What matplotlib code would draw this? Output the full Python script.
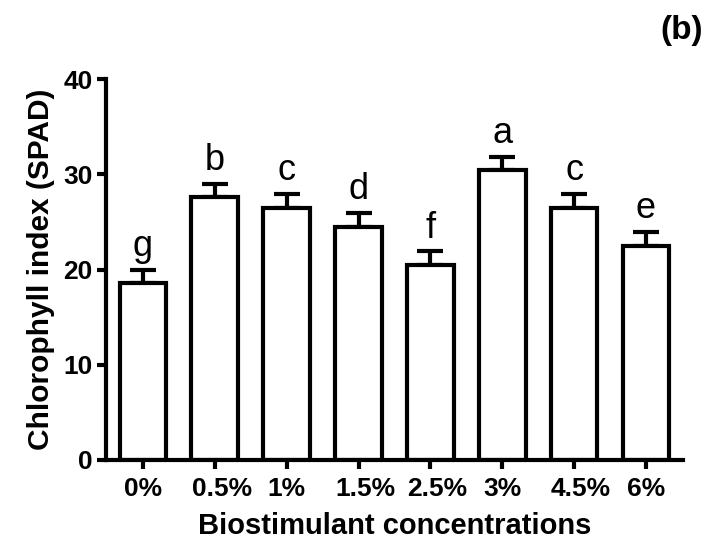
import matplotlib
matplotlib.use('Agg')
import matplotlib.pyplot as plt
import matplotlib.transforms as mtransforms
import numpy as np

plt.rcParams['font.family'] = ['Liberation Sans', 'DejaVu Sans']

# Data
concentrations = ['0%', '0.5%', '1%', '1.5%', '2.5%', '3%', '4.5%', '6%']
chlorophyll = [18.6, 27.6, 26.5, 24.5, 20.5, 30.4, 26.5, 22.5]
errors = [1.4, 1.4, 1.4, 1.4, 1.4, 1.4, 1.4, 1.4]
letters = ['g', 'b', 'c', 'd', 'f', 'a', 'c', 'e']

fig = plt.figure(figsize=(7.11, 5.39), dpi=100)
ax = fig.add_axes([0.149, 0.1466, 0.8116, 0.7068])

x = np.arange(len(concentrations))
lw = 3.0

# upward-only error bars, drawn behind the bars
ax.errorbar(x, chlorophyll, yerr=[np.zeros(len(errors)), errors], fmt='none',
            ecolor='black', elinewidth=lw, capsize=9.5, capthick=lw, zorder=1)
ax.bar(x, chlorophyll, width=0.65, color='white', edgecolor='black',
       linewidth=lw, zorder=2)

# significance letters above each error bar
for xi, val, err, letter in zip(x, chlorophyll, errors, letters):
    ax.annotate(letter, (xi, val + err), xytext=(0, 10), textcoords='offset points',
                ha='center', va='baseline', fontsize=26)

ax.set_xlim(-0.515, len(concentrations) - 0.485)
ax.set_ylim(0, 40)
ax.set_yticks([0, 10, 20, 30, 40])
ax.set_xticks(x)
ax.set_xticklabels(concentrations)

for side in ['top', 'right']:
    ax.spines[side].set_visible(False)
for side in ['left', 'bottom']:
    ax.spines[side].set_linewidth(lw)

ax.tick_params(axis='both', direction='out', length=6.5, width=lw,
               labelsize=19, pad=3)
ax.tick_params(axis='x', pad=6)
for lbl in ax.get_xticklabels() + ax.get_yticklabels():
    lbl.set_fontweight('bold')

# the decimal labels sit a little right of their ticks in the original
shift = mtransforms.ScaledTranslation(5 / 72, 0, fig.dpi_scale_trans)
for lbl in ax.get_xticklabels():
    if '.' in lbl.get_text():
        lbl.set_transform(lbl.get_transform() + shift)

ax.set_ylabel('Chlorophyll index (SPAD)', fontsize=21.5, fontweight='bold', labelpad=6)
ax.set_xlabel('Biostimulant concentrations', fontsize=21, fontweight='bold', labelpad=8)

fig.text(0.9585, 0.944, '(b)', ha='center', va='center', fontsize=24, fontweight='bold')

fig.savefig('out.png', dpi=100)
